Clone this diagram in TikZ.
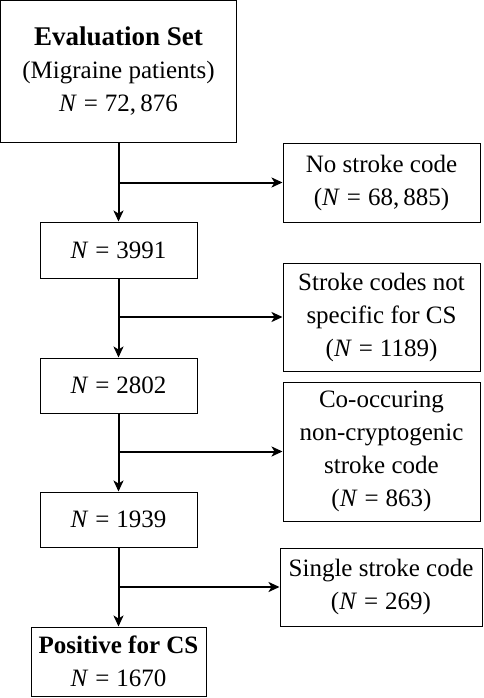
\documentclass[tikz,border=0pt]{standalone}
\usepackage{fontspec}
\setmainfont{Liberation Serif}
\usetikzlibrary{arrows.meta}
\newcommand{\eq}{\hspace{0.28em}=\hspace{0.28em}}
\begin{document}
\begin{tikzpicture}[x=1pt,y=-1pt,
  box/.style={draw,line width=1pt,rectangle,align=center,inner sep=0pt,
    font=\fontsize{25}{33}\selectfont},
  arr/.style={line width=2pt,-{Stealth[length=11pt,width=10pt,inset=3pt]}}]
\useasboundingbox (0,0) rectangle (484,698);
\node[box,minimum width=236pt,minimum height=141pt] (top) at (118.5,71.5)
  {{\fontsize{27}{33}\selectfont\textbf{Evaluation Set}}\\(Migraine patients)\\\textit{N}\eq 72,\,876};
\node[box,minimum width=197pt,minimum height=79pt] (ns) at (381.5,182.5)
  {No stroke code\\(\textit{N}\eq 68,\,885)};
\node[box,minimum width=157pt,minimum height=56pt] (n1) at (118.5,250)
  {\textit{N}\eq 3991};
\node[box,minimum width=197pt,minimum height=108pt] (sc) at (381.5,317)
  {Stroke codes not\\specific for CS\\(\textit{N}\eq 1189)};
\node[box,minimum width=157pt,minimum height=55pt] (n2) at (118.5,385.5)
  {\textit{N}\eq 2802};
\node[box,minimum width=197pt,minimum height=139pt] (co) at (381.5,451.5)
  {Co-occuring\\non-cryptogenic\\stroke code\\(\textit{N}\eq 863)};
\node[box,minimum width=157pt,minimum height=55pt] (n3) at (118.5,519.5)
  {\textit{N}\eq 1939};
\node[box,minimum width=202pt,minimum height=78pt] (ss) at (381,587)
  {Single stroke code\\(\textit{N}\eq 269)};
\node[box,minimum width=175pt,minimum height=69pt] (pos) at (118.5,661.5)
  {\textbf{Positive for CS}\\\textit{N}\eq 1670};
\draw[arr] (top.south) -- (n1.north);
\draw[arr] (top.south |- ns.west) -- (ns.west);
\draw[arr] (n1.south) -- (n2.north);
\draw[arr] (n1.south |- sc.west) -- (sc.west);
\draw[arr] (n2.south) -- (n3.north);
\draw[arr] (n2.south |- co.west) -- (co.west);
\draw[arr] (n3.south) -- (pos.north);
\draw[arr] (n3.south |- ss.west) -- (ss.west);
\end{tikzpicture}
\end{document}
